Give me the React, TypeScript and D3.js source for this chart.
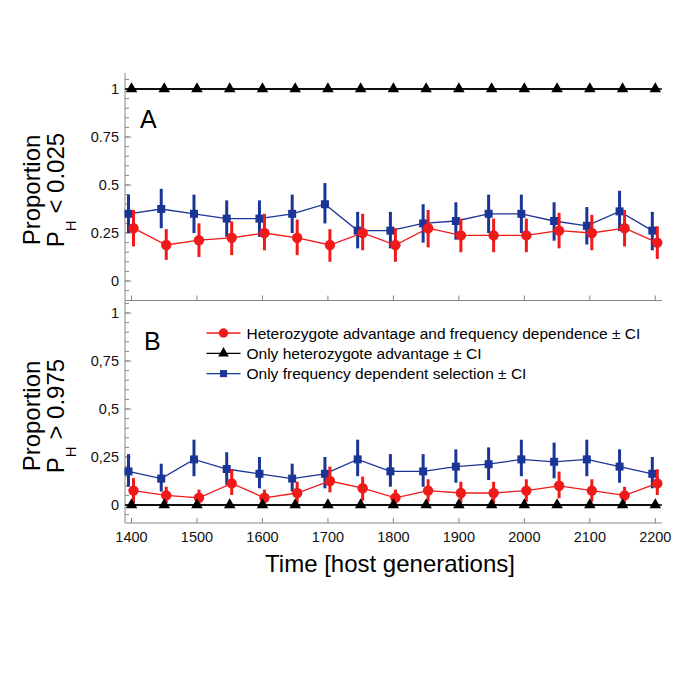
import React from "react";
import * as d3 from "d3";

// ---------- data ----------
const years = [1400, 1450, 1500, 1550, 1600, 1650, 1700, 1750, 1800, 1850, 1900, 1950, 2000, 2050, 2100, 2150, 2200];
const xTicks = [1400, 1500, 1600, 1700, 1800, 1900, 2000, 2100, 2200];

// Panel A: proportion P_H < 0.025
const redA = [0.275, 0.1875, 0.2125, 0.225, 0.25, 0.225, 0.1875, 0.25, 0.1875, 0.275, 0.2375, 0.2375, 0.2375, 0.2625, 0.25, 0.275, 0.2];
const redALo = [0.18, 0.11, 0.125, 0.135, 0.16, 0.135, 0.1, 0.16, 0.1, 0.175, 0.15, 0.15, 0.15, 0.17, 0.16, 0.18, 0.115];
const redAHi = [0.37, 0.27, 0.3, 0.31, 0.35, 0.32, 0.27, 0.35, 0.275, 0.37, 0.325, 0.325, 0.325, 0.355, 0.345, 0.37, 0.285];
const blackA = [1, 1, 1, 1, 1, 1, 1, 1, 1, 1, 1, 1, 1, 1, 1, 1, 1];
const blueA = [0.35, 0.375, 0.35, 0.325, 0.325, 0.35, 0.4, 0.2625, 0.2625, 0.3, 0.3125, 0.35, 0.35, 0.3125, 0.2875, 0.3625, 0.2625];
const blueALo = [0.25, 0.275, 0.25, 0.23, 0.23, 0.25, 0.3, 0.17, 0.17, 0.2, 0.215, 0.25, 0.25, 0.21, 0.19, 0.26, 0.16];
const blueAHi = [0.45, 0.48, 0.45, 0.42, 0.42, 0.45, 0.51, 0.36, 0.36, 0.4, 0.41, 0.45, 0.45, 0.41, 0.385, 0.47, 0.36];

// Panel B: proportion P_H > 0.975
const redB = [0.075, 0.05, 0.0375, 0.1125, 0.0375, 0.0625, 0.125, 0.0875, 0.0375, 0.075, 0.0625, 0.0625, 0.075, 0.1, 0.075, 0.05, 0.1125];
const redBLo = [0.01, 0.01, 0.0, 0.052, 0.0, 0.01, 0.066, 0.022, 0.0, 0.017, 0.01, 0.01, 0.017, 0.035, 0.017, 0.01, 0.052];
const redBHi = [0.14, 0.095, 0.08, 0.186, 0.08, 0.121, 0.2, 0.148, 0.08, 0.134, 0.121, 0.121, 0.134, 0.174, 0.134, 0.095, 0.186];
const blackB = [0, 0, 0, 0, 0, 0, 0, 0, 0, 0, 0, 0, 0, 0, 0, 0, 0];
const blueB = [0.175, 0.1375, 0.2375, 0.1875, 0.1625, 0.1375, 0.1625, 0.2375, 0.175, 0.175, 0.2, 0.2125, 0.2375, 0.225, 0.2375, 0.2, 0.1625];
const blueBLo = [0.095, 0.07, 0.15, 0.105, 0.087, 0.07, 0.087, 0.15, 0.095, 0.095, 0.116, 0.13, 0.15, 0.139, 0.15, 0.116, 0.087];
const blueBHi = [0.265, 0.215, 0.34, 0.275, 0.25, 0.215, 0.25, 0.34, 0.265, 0.265, 0.29, 0.3, 0.34, 0.325, 0.34, 0.29, 0.25];

const yMajor = [0, 0.25, 0.5, 0.75, 1];
const yLabelsA = ["0", "0.25", "0.5", "0.75", "1"];
const yLabelsB = ["0", "0,25", "0,5", "0,75", "1"];
const yMinor = [-0.05, 0, 0.05, 0.1, 0.15, 0.2, 0.25, 0.3, 0.35, 0.4, 0.45, 0.5, 0.55, 0.6, 0.65, 0.7, 0.75, 0.8, 0.85, 0.9, 0.95, 1, 1.05];

const legendLabels = [
  "Heterozygote advantage and frequency dependence \u00b1 CI",
  "Only heterozygote advantage \u00b1 CI",
  "Only frequency dependent selection \u00b1 CI",
];

// ---------- styling ----------
const RED = "#f01a1a";
const BLUE = "#1b3596";
const BLACK = "#000";
const AXIS = "#888";
const FONT = "'Liberation Sans', Arial, Helvetica, sans-serif";

const xLeft = 125;
const xRight = 662;
const x = d3.scaleLinear().domain([1400, 2200]).range([131.5, 655.3]);

type Panel = {
  y: d3.ScaleLinear<number, number>;
  top: number;
  bottom: number;
  labels: string[];
  red: number[]; redLo: number[]; redHi: number[];
  black: number[];
  blue: number[]; blueLo: number[]; blueHi: number[];
  letter: string;
  letterX: number; letterY: number;
  titleCy: number;
  cmp: string;
  showXLabels: boolean;
};

const panels: Panel[] = [
  {
    y: d3.scaleLinear().domain([0, 1]).range([281, 89]),
    top: 73, bottom: 300.5, labels: yLabelsA,
    red: redA, redLo: redALo, redHi: redAHi, black: blackA,
    blue: blueA, blueLo: blueALo, blueHi: blueAHi,
    letter: "A", letterX: 140, letterY: 128, titleCy: 190, cmp: "<", showXLabels: false,
  },
  {
    y: d3.scaleLinear().domain([0, 1]).range([505, 313]),
    top: 300.5, bottom: 523, labels: yLabelsB,
    red: redB, redLo: redBLo, redHi: redBHi, black: blackB,
    blue: blueB, blueLo: blueBLo, blueHi: blueBHi,
    letter: "B", letterX: 144, letterY: 350, titleCy: 416, cmp: ">", showXLabels: true,
  },
];

const circle = d3.symbol().type(d3.symbolCircle).size(85)()!;
const square = d3.symbol().type(d3.symbolSquare).size(64)()!;
const triangle = d3.symbol().type(d3.symbolTriangle).size(58)()!;
const circleLg = d3.symbol().type(d3.symbolCircle).size(70)()!;
const squareLg = d3.symbol().type(d3.symbolSquare).size(50)()!;
const triangleLg = d3.symbol().type(d3.symbolTriangle).size(50)()!;

function Series({ vals, lo, hi, y, color, dx, marker }: any) {
  const line = d3.line<number>().x((_, i) => x(years[i]) + dx).y((v) => y(v));
  return (
    <g>
      <path d={line(vals) || ""} fill="none" stroke={color} strokeWidth={1.3} />
      {lo &&
        vals.map((_: number, i: number) => (
          <line key={"e" + i} x1={x(years[i]) + dx} x2={x(years[i]) + dx} y1={y(lo[i])} y2={y(hi[i])} stroke={color} strokeWidth={3} />
        ))}
      {vals.map((v: number, i: number) => (
        <path key={"m" + i} d={marker} transform={`translate(${x(years[i]) + dx},${y(v)})`} fill={color} />
      ))}
    </g>
  );
}

function PanelView({ p }: { p: Panel }) {
  const { y } = p;
  return (
    <g>
      {/* y axis */}
      <line x1={xLeft} x2={xLeft} y1={p.top} y2={p.bottom} stroke={AXIS} strokeWidth={1} />
      {yMinor.map((t) => (
        <line key={"mn" + t} x1={xLeft} x2={xLeft + 4} y1={y(t)} y2={y(t)} stroke={AXIS} strokeWidth={1} />
      ))}
      {yMajor.map((t, i) => (
        <g key={"mj" + t}>
          <line x1={xLeft} x2={xLeft + 6} y1={y(t)} y2={y(t)} stroke={AXIS} strokeWidth={1} />
          <text x={119} y={y(t)} dy="0.35em" textAnchor="end" fontSize={14.5} fontFamily={FONT} fill="#111">
            {p.labels[i]}
          </text>
        </g>
      ))}
      {/* x axis */}
      <line x1={xLeft} x2={xRight} y1={p.bottom} y2={p.bottom} stroke={AXIS} strokeWidth={1} />
      {xTicks.map((t) => (
        <g key={"xt" + t}>
          <line x1={x(t)} x2={x(t)} y1={p.bottom} y2={p.bottom - 5} stroke={AXIS} strokeWidth={1} />
          {p.showXLabels && (
            <text x={x(t)} y={p.bottom + 19} textAnchor="middle" fontSize={14.5} fontFamily={FONT} fill="#111">
              {t}
            </text>
          )}
        </g>
      ))}
      {/* series */}
      <line x1={xLeft} x2={xRight} y1={y(p.black[0])} y2={y(p.black[0])} stroke={BLACK} strokeWidth={1.4} />
      <Series vals={p.blue} lo={p.blueLo} hi={p.blueHi} y={y} color={BLUE} dx={-3} marker={square} />
      <Series vals={p.red} lo={p.redLo} hi={p.redHi} y={y} color={RED} dx={2} marker={circle} />
      <Series vals={p.black} y={y} color={BLACK} dx={0} marker={triangle} />
      {/* panel letter */}
      <text x={p.letterX} y={p.letterY} fontSize={25} fontFamily={FONT} fill="#000">
        {p.letter}
      </text>
      {/* y title */}
      <g transform={`translate(40,${p.titleCy}) rotate(-90)`}>
        <text x={0} y={0} textAnchor="middle" fontSize={24} fontFamily={FONT} fill="#000">
          Proportion
        </text>
      </g>
      <g transform={`translate(63.5,${p.titleCy}) rotate(-90)`}>
        <text x={0} y={0} textAnchor="middle" fontSize={24} fontFamily={FONT} fill="#000">
          <tspan>P</tspan>
          <tspan dy={12} fontSize={15}>H</tspan>
          <tspan dy={-12}>{` ${p.cmp} ${p.cmp === "<" ? "0.025" : "0.975"}`}</tspan>
        </text>
      </g>
    </g>
  );
}

export default function App() {
  const legendMarkers = [circleLg, triangleLg, squareLg];
  const legendColors = [RED, BLACK, BLUE];
  const legendY = [333, 353.3, 373.6];
  return (
    <svg width={685} height={685} style={{ display: "block", position: "absolute", left: 0, top: 0 }}>
      <rect width={685} height={685} fill="#fff" />
      {panels.map((p) => (
        <PanelView key={p.letter} p={p} />
      ))}
      {/* legend */}
      {legendLabels.map((lab, i) => (
        <g key={lab}>
          <line x1={206.5} x2={240.5} y1={legendY[i]} y2={legendY[i]} stroke={legendColors[i]} strokeWidth={1.3} />
          <path d={legendMarkers[i]} transform={`translate(223.5,${legendY[i]})`} fill={legendColors[i]} />
          <text x={246.5} y={legendY[i]} dy="0.36em" fontSize={15.5} fontFamily={FONT} fill="#000">
            {lab}
          </text>
        </g>
      ))}
      {/* x title */}
      <text x={390} y={572} textAnchor="middle" fontSize={24} fontFamily={FONT} fill="#000">
        Time [host generations]
      </text>
    </svg>
  );
}
